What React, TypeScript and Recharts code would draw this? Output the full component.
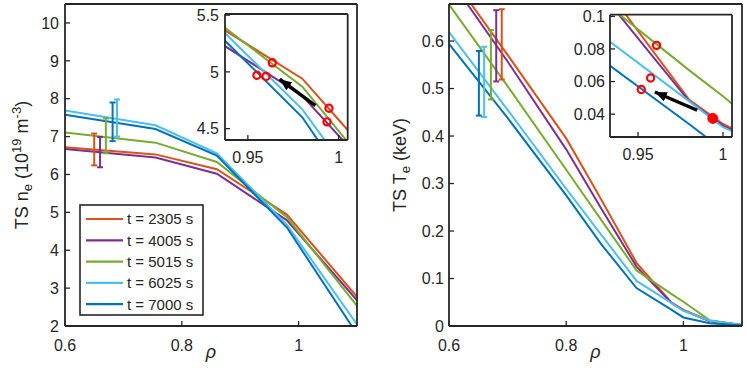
import React from 'react'
import {
  ComposedChart, Line, Scatter, ErrorBar, XAxis, YAxis, CartesianGrid, Legend
} from 'recharts'

const FONT = '"Liberation Sans", Arial, Helvetica, sans-serif'
const INK = '#262626'

const seriesNames = ['t = 2305 s', 't = 4005 s', 't = 5015 s', 't = 6025 s', 't = 7000 s']
const seriesColors = ['#D95319', '#7E2F8E', '#77AC30', '#4DBEEE', '#0072BD']

// TS density profiles, 10^19 m^-3
const neRho = [0.6, 0.755, 0.86, 0.98, 1.1]
const ne2305 = [6.72, 6.53, 6.14, 4.94, 2.77]
const ne4005 = [6.67, 6.45, 6.02, 4.79, 2.68]
const ne5015 = [7.11, 6.84, 6.33, 4.87, 2.53]
const ne6025 = [7.69, 7.3, 6.56, 4.67, 2.04]
const ne7000 = [7.58, 7.2, 6.5, 4.6, 1.79]

// TS temperature profiles, keV
const teRho = [0.6, 0.7, 0.8, 0.86, 0.92, 0.98, 1.0, 1.045, 1.1]
const te2305 = [0.743, 0.571, 0.395, 0.266, 0.133, 0.049, 0.034, 0.011, 0.002]
const te4005 = [0.733, 0.557, 0.372, 0.247, 0.125, 0.048, 0.033, 0.01, 0.002]
const te5015 = [0.677, 0.505, 0.329, 0.223, 0.117, 0.067, 0.051, 0.012, 0.002]
const te6025 = [0.619, 0.455, 0.289, 0.192, 0.095, 0.048, 0.032, 0.011, 0.002]
const te7000 = [0.594, 0.438, 0.275, 0.172, 0.08, 0.034, 0.018, 0.006, 0.001]

// error bars (same series order)
const neErrRho = [0.65, 0.66, 0.67, 0.689, 0.6815]
const neErrMid = [6.66, 6.59, 7.02, 7.49, 7.39]
const neErrHalf = [0.42, 0.4, 0.46, 0.49, 0.51]
const teErrRho = [0.69, 0.6806, 0.6715, 0.66, 0.651]
const teErrMid = [0.593, 0.59, 0.55, 0.514, 0.511]
const teErrHalf = [0.074, 0.075, 0.073, 0.074, 0.068]

// inset markers and arrows
const neMarkRho = [0.955, 0.96, 0.9635, 0.9947, 0.9936]
const neMarkVal = [4.97, 4.96, 5.08, 4.68, 4.56]
const neArrowRho = [0.9872, 0.9675]
const neArrowVal = [4.702, 4.936]
const teMarkRho = [0.9609, 0.9574, 0.9519]
const teMarkVal = [0.0822, 0.0622, 0.0551]
const teFilledRho = [0.994]
const teFilledVal = [0.0374]
const teArrowRho = [0.9848, 0.9599]
const teArrowVal = [0.0424, 0.0536]

const rhoTicks = [0.6, 0.8, 1]
const neTicks = [2, 3, 4, 5, 6, 7, 8, 9, 10]
const teTicks = [0, 0.1, 0.2, 0.3, 0.4, 0.5, 0.6]
const neInsetRhoTicks = [0.95, 1]
const neInsetTicks = [4.5, 5, 5.5]
const teInsetRhoTicks = [0.95, 1]
const teInsetTicks = [0.04, 0.06, 0.08, 0.1]

const neProfiles = [ne2305, ne4005, ne5015, ne6025, ne7000]
const teProfiles = [te2305, te4005, te5015, te6025, te7000]

const rows = (xs: number[], ys: number[]) => xs.map((x, i) => ({ x, y: ys[i] }))

function frameAxes(o: any) {
  const tick = { fill: INK, fontSize: 16, fontFamily: FONT }
  const line = { stroke: INK, strokeWidth: 1.8 }
  const tl = { stroke: INK, strokeWidth: 1.3 }
  return [
    <XAxis key="xb" type="number" dataKey="x" domain={o.xDomain} ticks={o.xTicks} allowDataOverflow interval={0}
      height={o.xHeight} tickSize={-5} tickMargin={o.xMargin} tick={tick} axisLine={line} tickLine={tl}
      label={o.xLabel} />,
    <XAxis key="xt" xAxisId="top" orientation="top" type="number" domain={o.xDomain} ticks={o.xTicks}
      allowDataOverflow interval={0} height={1} tickSize={-5} tick={false} axisLine={line} tickLine={tl} />,
    <YAxis key="yl" type="number" domain={o.yDomain} ticks={o.yTicks} allowDataOverflow interval={0}
      width={o.yWidth} tickSize={-5} tickMargin={o.yMargin} tick={tick} axisLine={line} tickLine={tl}
      label={o.yLabel} />,
    <YAxis key="yr" yAxisId="right" orientation="right" type="number" domain={o.yDomain} ticks={o.yTicks}
      allowDataOverflow interval={0} width={1} tickSize={-5} tick={false} axisLine={line} tickLine={tl} />,
  ]
}

function profileLines(profiles: number[][], rho: number[]) {
  return profiles.map((vals, i) => (
    <Line key={'p' + i} data={rows(rho, vals)} dataKey="y" stroke={seriesColors[i]} strokeWidth={2}
      dot={false} activeDot={false} isAnimationActive={false} />
  ))
}

function errorBars(xs: number[], mids: number[], halfs: number[]) {
  return xs.map((x, i) => (
    <Scatter key={'e' + i} data={[{ x, y: mids[i], e: halfs[i] }]} dataKey="y" isAnimationActive={false}
      shape={() => <g />}>
      <ErrorBar dataKey="e" direction="y" width={3} stroke={seriesColors[i]} strokeWidth={2}
        isAnimationActive={false} />
    </Scatter>
  ))
}

const ring = (p: any) => <circle cx={p.cx} cy={p.cy} r={3.6} fill="none" stroke="#ff0000" strokeWidth={2.2} />
const disc = (p: any) => <circle cx={p.cx} cy={p.cy} r={5} fill="#ff0000" stroke="#ff0000" strokeWidth={1} />

function XLabel(props: any) {
  const vb = props.viewBox || { x: 0, y: 0, width: 0 }
  return (
    <text x={vb.x + vb.width / 2} y={vb.y + 32} textAnchor="middle" fontFamily={FONT}
      fontStyle="italic" fontSize={18} fill={INK}>ρ</text>
  )
}

function NeLabel() {
  return (
    <text transform="translate(28,165) rotate(-90)" textAnchor="middle" fontFamily={FONT} fontSize={18} fill={INK}>
      TS n<tspan dy={4} fontSize={13}>e</tspan><tspan dy={-4}> (10</tspan>
      <tspan dy={-7} fontSize={13}>19</tspan><tspan dy={7}> m</tspan>
      <tspan dy={-7} fontSize={13}>-3</tspan><tspan dy={7}>)</tspan>
    </text>
  )
}

function TeLabel() {
  return (
    <text transform="translate(36,165) rotate(-90)" textAnchor="middle" fontFamily={FONT} fontSize={18} fill={INK}>
      TS T<tspan dy={4} fontSize={13}>e</tspan><tspan dy={-4}> (keV)</tspan>
    </text>
  )
}

function LegendBox() {
  return (
    <svg width={125} height={112} style={{ display: 'block' }}>
      <rect x={1} y={1} width={123} height={110} fill="#fff" stroke={INK} strokeWidth={1.6} />
      {seriesNames.map((name, i) => (
        <g key={name}>
          <line x1={7} x2={44} y1={15 + i * 21.3} y2={15 + i * 21.3} stroke={seriesColors[i]} strokeWidth={2.2} />
          <text x={48} y={15 + i * 21.3} dy="0.36em" fontSize={15} fontFamily={FONT} fill={INK}>{name}</text>
        </g>
      ))}
    </svg>
  )
}

const abs = (left: number, top: number): React.CSSProperties => ({ position: 'absolute', left, top })

export default function App() {
  return (
    <div style={{ position: 'absolute', left: 0, top: 0, width: 747, height: 368, background: '#fff' }}>
      <svg width={0} height={0} style={{ position: 'absolute' }}>
        <defs>
          <marker id="arrowHead" viewBox="0 0 12 10" markerWidth={12} markerHeight={10} refX={12} refY={5}
            orient="auto" markerUnits="userSpaceOnUse">
            <path d="M0,0 L12,5 L0,10 Z" fill="#000" />
          </marker>
        </defs>
      </svg>

      {/* density panel */}
      <div style={abs(0, 0)}>
        <ComposedChart width={370} height={368} margin={{ top: 3, right: 12, left: 0, bottom: 0 }}>
          {frameAxes({
            xDomain: [0.6, 1.1], xTicks: rhoTicks, xHeight: 42, xMargin: 19, xLabel: <XLabel />,
            yDomain: [2, 10.5], yTicks: neTicks, yWidth: 65, yMargin: 11, yLabel: <NeLabel />,
          })}
          {profileLines(neProfiles, neRho)}
          {errorBars(neErrRho, neErrMid, neErrHalf)}
          <Legend content={() => <LegendBox />} layout="vertical" align="center" verticalAlign="middle"
            wrapperStyle={{ left: 79, top: 204, width: 125, height: 112 }} />
        </ComposedChart>
      </div>

      {/* temperature panel */}
      <div style={abs(370, 0)}>
        <ComposedChart width={377} height={368} margin={{ top: 3, right: 4, left: 0, bottom: 0 }}>
          {frameAxes({
            xDomain: [0.6, 1.1], xTicks: rhoTicks, xHeight: 42, xMargin: 19, xLabel: <XLabel />,
            yDomain: [0, 0.678], yTicks: teTicks, yWidth: 79, yMargin: 10, yLabel: <TeLabel />,
          })}
          {profileLines(teProfiles, teRho)}
          {errorBars(teErrRho, teErrMid, teErrHalf)}
        </ComposedChart>
      </div>

      {/* density inset */}
      <div style={abs(185, 0)}>
        <ComposedChart width={165.7} height={168} margin={{ top: 13, right: 2, left: 0, bottom: 0 }}>
          <CartesianGrid horizontal={false} vertical={false} fill="#fff" fillOpacity={1} />
          {frameAxes({
            xDomain: [0.9374, 1.005], xTicks: neInsetRhoTicks, xHeight: 28, xMargin: 17,
            yDomain: [4.4, 5.51], yTicks: neInsetTicks, yWidth: 40, yMargin: 11,
          })}
          {profileLines(neProfiles, neRho)}
          <Scatter data={rows(neMarkRho, neMarkVal)} dataKey="y" shape={ring} isAnimationActive={false} />
          <Line data={rows(neArrowRho, neArrowVal)} dataKey="y" stroke="#000" strokeWidth={3.5} dot={false}
            activeDot={false} markerEnd="url(#arrowHead)" isAnimationActive={false} />
        </ComposedChart>
      </div>

      {/* temperature inset */}
      <div style={abs(569.5, 0)}>
        <ComposedChart width={165} height={165} margin={{ top: 13.7, right: 2, left: 0, bottom: 0 }}>
          <CartesianGrid horizontal={false} vertical={false} fill="#fff" fillOpacity={1} />
          {frameAxes({
            xDomain: [0.9335, 1.0053], xTicks: teInsetRhoTicks, xHeight: 28, xMargin: 17,
            yDomain: [0.026, 0.101], yTicks: teInsetTicks, yWidth: 40, yMargin: 10,
          })}
          {profileLines(teProfiles, teRho)}
          <Scatter data={rows(teMarkRho, teMarkVal)} dataKey="y" shape={ring} isAnimationActive={false} />
          <Scatter data={rows(teFilledRho, teFilledVal)} dataKey="y" shape={disc} isAnimationActive={false} />
          <Line data={rows(teArrowRho, teArrowVal)} dataKey="y" stroke="#000" strokeWidth={3.5} dot={false}
            activeDot={false} markerEnd="url(#arrowHead)" isAnimationActive={false} />
        </ComposedChart>
      </div>
    </div>
  )
}
